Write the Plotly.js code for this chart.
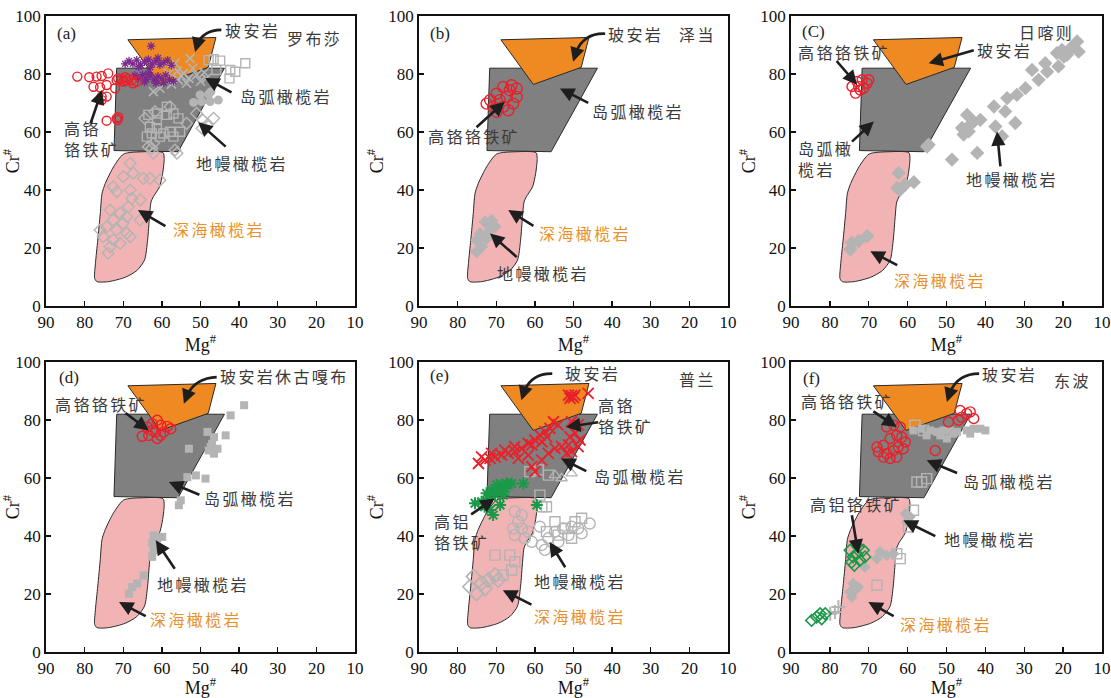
<!DOCTYPE html>
<html><head><meta charset="utf-8">
<script src="https://cdn.plot.ly/plotly-3.0.1.min.js"></script>
<style>body{margin:0;background:#fff}#chart{width:1111px;height:698px}</style>
</head><body><div id="chart"></div>
<script>
// ---- discrimination fields (Mg#, Cr#) ----
const boniniteX = [68.8, 46.0, 48.0, 60.4, 68.8];
const boniniteY = [91.8, 92.6, 82.3, 76.4, 91.8];
const arcX = [71.7, 43.8, 55.8, 72.4, 71.7];
const arcY = [82.0, 82.0, 53.2, 53.6, 82.0];
const abyssalX = [69.9,72.5,74.65,75.5,75.95,76.6,77.2,77.4,76.8,73.8,69.5,66.5,64.5,63.7,63.2,62.8,62.2,60.6,59.8,59.4,59.7,64.7,69.9];
const abyssalY = [52.4,48.0,42.25,38.8,31.9,22.7,14.7,9.5,8.4,8.4,9.9,12.2,15.8,22.7,30.8,35.9,37.7,41.1,45.7,50.9,52.9,53.2,52.4];

// ---- (a) 罗布莎 ----
const a_redX = [81.9,78.8,76.9,75.6,73.9,77.7,76.0,74.3,72.1,75.6,75.6,71.7,71.3,70.4,69.5,68.7,67.8,70.0,69.1,66.5,67.4,74.3,71.7,71.3,71.5,74.3];
const a_redY = [79.1,78.9,79.1,79.3,80.2,75.6,75.4,76.2,75.1,72.2,71.0,77.9,78.5,78.2,78.9,78.4,77.9,77.4,77.7,77.4,76.8,63.9,64.7,65.1,64.1,72.2];
const a_purX = [69.5,68.5,67.5,66.5,65.5,64.5,63.5,62.5,61.5,60.5,59.5,58.5,66,63,61,57.5,66,65,64,63,62,61,60,59,58,57,64.5,61.5,59.5,63.5,67,62.8];
const a_purY = [83.5,84.5,83.5,84.8,83.0,84.2,85.0,83.5,84.6,83.2,84.0,84.8,82.5,82.3,85.5,83.0,78.5,79.8,78.2,79.5,78.0,79.2,78.3,79.6,78.1,77.5,77.2,76.8,77.0,80.2,79.5,89.6];
const a_gxX = [62.2,59.2,56.6,52.7,55.7,53.6,62.2,60.5,58.3,51.0,54.4,53,50,49,56,57.5,52,55,48.5];
const a_gxY = [83.7,83.7,83.7,85.4,77.9,76.8,73.9,75.1,80.2,79.7,80.2,78.5,77.5,80.5,81,76.5,82,79.5,78.5];
const a_gcX = [50.1,51.8,49.7,47.5,45.4,47.9,47.3];
const a_gcY = [72.8,70.2,70.5,70.5,71.0,73.0,73.9];
const a_gsX = [63.5,61.3,58.7,57,58.7,63.1,61.3,59.6,57.9,62.6,57.0,60.5,63.9,61.3,55.7,55.3,47.9,44.9,42.3,41,42.5,38.4,45.9,46.6];
const a_gsY = [65.9,66.4,65.9,66.4,68.7,61.8,61.3,59.5,60.1,59.5,58.4,58.4,58.4,64.1,64.7,60.1,84.8,84.6,81.4,80.8,78.5,83.7,81.4,85.1];
const a_gdX = [68.2,70.0,67.4,64.8,63.1,60.5,72.6,71.7,68.2,65.6,67.8,68.7,65.6,73.4,70.8,72.6,69.1,74.3,71.7,69.1,75.2,72.6,73.4,70.8,68.2,73.9,76.0,70.0,62.2,62.6,56.1,64.4,61.8,57.9,53.6,51.0,49.4,46.6,48.3,49.6,56.6,62.2,63.5];
const a_gdY = [49.2,44.6,45.8,44.0,44.0,43.4,41.1,39.4,40.0,36.6,37.1,34.2,29.7,33.1,32.0,29.7,30.8,27.3,26.2,25.1,23.9,22.8,20.4,21.6,23.9,18.2,26.2,28.5,52.7,54.4,52.7,64.7,67.0,68.7,63.0,66.4,64.1,64.7,62.4,61.3,53.8,56.1,54.9];

// ---- (b) 泽当 ----
const b_redX = [71.6,69.9,68.2,66.5,64.7,65.6,68.2,70.8,72.5,67.3,69.1,66.0,64.7,66.9,69.9];
const b_redY = [71.0,73.2,75.5,74.4,72.1,69.8,68.7,68.7,69.8,72.1,71.0,76.1,75.0,67.5,66.9];
const b_gdX = [72.9,71.6,74.2,70.3,75.1,73.8,75.1,72.5,71.2];
const b_gdY = [29.0,26.2,25.0,27.3,22.7,20.4,18.7,23.3,29.6];

// ---- (c) 日喀则 ----
const c_redX = [74.3,73.0,71.7,70.4,72.2,73.4,71.3,72.6,70.0];
const c_redY = [75.7,77.4,78.0,76.8,74.5,73.4,75.1,75.7,78.0];
const c_gdX = [74.7,74.3,72.6,70.4,62.3,61.9,60.6,58.4,62.7,55.0,54.6,48.6,46.0,45.6,44.7,43.9,44.3,43.0,42.1,41.3,37.8,37.4,35.7,34.9,34.4,32.3,31.9,29.7,28.0,26.3,24.6,24.1,21.6,21.2,19.8,18.1,16.4,16.0,19.0,20.3];
const c_gdY = [19.5,21.8,22.4,24.1,45.9,40.1,41.9,42.7,40.7,55.0,55.6,50.5,61.4,59.1,65.9,62.5,60.2,63.6,52.8,64.2,68.8,61.9,58.5,67.1,71.7,63.1,72.8,75.1,81.4,78.0,83.7,80.8,87.2,82.6,86.0,88.9,91.2,87.7,86.6,88.3];

// ---- (d) 休古嘎布 ----
const d_redX = [65.1,63.4,61.6,62.5,61.2,60.3,58.6,59.5,61.2,63.8,62.5,57.7,60.3];
const d_redY = [74.4,74.7,75.9,78.7,79.9,78.2,77.8,75.9,73.6,77.6,76.4,77.0,74.7];
const d_gsX = [68.5,67.7,66.4,64.7,62.5,62.1,62.5,61.2,59.9,62.1,55.6,55.1,53.4,51.2,48.7,53.0,48.2,46.5,47.4,46.5,45.6,47.0,43.5,42.2,38.7,47.9];
const d_gsY = [20.1,22.4,23.6,26.4,32.8,35.1,37.6,39.1,39.7,40.2,50.6,52.3,60.3,60.9,59.8,70.1,75.9,74.1,70.7,68.4,70.1,71.8,74.7,81.6,85.1,69.5];

// ---- (e) 普兰 ----
const e_redX = [74.6,72.9,71.6,70.3,68.6,66.9,65.2,63.4,61.7,60.0,58.7,57.4,56.1,55.2,73.8,71.2,67.8,65.2,60.8,58.2,56.9,64.3,61.7,60.8,60.0,58.2,56.5,54.8,53.1,51.3,50.9,49.6,48.3,50.5,48.8,51.8,51.3,50.5,49.6,46.2,50.9,50.0,54.0,50.5,48.8];
const e_redY = [65.0,66.2,66.8,67.3,67.9,68.5,69.1,70.2,71.9,73.1,74.8,76.0,77.1,79.4,67.3,68.5,69.6,70.8,71.4,72.5,74.2,66.8,67.9,63.9,62.2,66.2,68.5,70.2,70.8,71.4,74.2,75.4,73.1,69.1,70.8,68.5,88.6,88.4,88.6,89.2,87.5,87.7,78.3,79.4,78.3];
const e_grX = [75.5,73.8,73.0,72.1,71.2,69.9,68.6,67.3,66.0,70.3,71.6,70.8,69.0,68.2,69.5,67.7,63.0,59.5,72.5];
const e_grY = [51.3,51.8,50.1,53.0,55.8,57.6,57.6,58.1,58.1,54.1,49.0,47.2,50.7,54.1,55.8,56.4,58.1,50.7,54.7];
const e_gcX = [65.2,63.4,64.3,65.6,63.4,61.7,65.2,62.6,60.8,58.2,57.4,56.5,54.8,52.7,50.5,48.8,47.9,45.8,51.3,53.9,58.7];
const e_gcY = [48.4,47.2,44.9,42.6,42.6,41.5,40.3,39.2,38.0,36.9,35.2,39.2,41.5,42.6,43.2,42.6,40.9,44.3,40.3,38.0,43.2];
const e_gsX = [58.7,58.2,57.0,61.3,59.1,56.5,70.3,66.5,65.2,66.0,68.2,54.8,52.2,49.6,47.9,54.0,50.5,57.0];
const e_gsY = [54.1,50.1,50.1,62.2,62.8,61.0,33.4,33.4,31.1,28.3,26.5,44.9,42.6,44.9,46.1,40.3,39.2,41.5];
const e_gdX = [76.8,75.1,73.8,72.1,70.3,75.9,69.5,72.9];
const e_gdY = [22.5,20.2,23.7,24.8,26.5,26.0,24.8,21.9];
const e_gtX = [54.8,50.5,53.1];
const e_gtY = [61.0,61.6,59.9];

// ---- (f) 东波 ----
const f_redX = [65.4,63.6,61.9,64.5,62.8,61.5,67.9,66.2,67.5,65.4,63.6,62.4,61.1,64.5,62.8,66.2,60.6,52.9,49.5,46.9,46.5,44.8,43.9,43.0,46.1];
const f_redY = [77.6,78.2,77.6,73.6,74.7,74.1,70.7,71.3,69.0,68.4,69.5,70.7,70.1,66.7,67.2,67.2,72.4,69.5,79.3,79.9,83.3,82.2,82.8,80.5,81.0];
const f_gfX = [58.5,56.4,54.2,52.5,50.8,49.1,47.3,44.8,43.0,41.3,40.0,55.1,51.6,48.2,43.9,49.9];
const f_gfY = [76.4,77.0,76.4,75.9,76.4,76.4,75.9,76.4,77.0,77.0,76.4,74.7,74.7,75.3,75.3,73.6];
const f_gsX = [58.1,55.9,57.6,56.4,55.1,58.5,59.8,62.8,61.9,67.9];
const f_gsY = [78.2,76.4,58.6,58.6,59.8,48.9,43.1,33.9,32.2,23.0];
const f_gdX = [60.6,59.4,60.2,67.1,65.4,63.6,67.9,71.0,74.0,73.5,74.4,72.7,74.8];
const f_gdY = [47.7,46.6,44.8,34.5,33.3,33.9,32.2,29.3,23.6,21.3,19.0,22.4,20.7];
const f_gpX = [78.7,77.8,79.9];
const f_gpY = [13.8,15.5,13.2];
const f_grX = [74.8,74.0,73.1,72.3,71.0,74.4,72.7,71.4,73.7,84.7,83.4,82.1,81.2,82.5];
const f_grY = [35.1,32.8,33.9,31.6,32.8,31.0,36.2,35.1,29.9,10.9,12.1,11.5,13.2,13.2];

const xTicks = [90,80,70,60,50,40,30,20,10];
const yTicks = [0,20,40,60,80,100];

// ---- styles ----
const RED = '#e8212b', PUR = '#7a2a8c', GRN = '#1a9a48', GRY = '#b4b4b4';
const ORANGE = '#ef8a22', ARCG = '#808080', PINK = '#f2b3b4';
const TXT = '#3a3a3a', TXT_OR = '#e8912c';
const CJK = '"Noto Sans CJK SC", "Noto Sans", sans-serif';
const SERIF = '"Liberation Serif", "DejaVu Serif", serif';

const traces = [];
function ax(i){ return i===1 ? ['x','y'] : ['x'+i,'y'+i]; }
function fields(i){
  const [xa,ya] = ax(i);
  const base = {type:'scatter', mode:'lines', fill:'toself', xaxis:xa, yaxis:ya, hoverinfo:'skip', showlegend:false};
  traces.push(Object.assign({}, base, {x:abyssalX, y:abyssalY, fillcolor:PINK, line:{color:'#2a2a2a', width:1, shape:'spline', smoothing:0.7}}));
  traces.push(Object.assign({}, base, {x:arcX, y:arcY, fillcolor:ARCG, line:{color:'#2a2a2a', width:1}}));
  traces.push(Object.assign({}, base, {x:boniniteX, y:boniniteY, fillcolor:ORANGE, line:{color:'#2a2a2a', width:1}}));
}
function pts(i, x, y, symbol, color, size, lw){
  const [xa,ya] = ax(i);
  const open = symbol.indexOf('open') >= 0;
  traces.push({type:'scatter', mode:'markers', x:x, y:y, xaxis:xa, yaxis:ya, showlegend:false, hoverinfo:'skip',
    marker:{symbol:symbol, size:size, color:color, line:{color:color, width: open ? lw : 0}}});
}

for (let i=1;i<=6;i++) fields(i);
// (a)
pts(1, a_gdX, a_gdY, 'diamond-open', GRY, 9, 1.4);
pts(1, a_gsX, a_gsY, 'square-open', GRY, 9, 1.4);
pts(1, a_gcX, a_gcY, 'circle', GRY, 9, 0);
pts(1, a_gxX, a_gxY, 'x-thin-open', GRY, 9, 1.6);
pts(1, a_purX, a_purY, 'asterisk-open', PUR, 7, 1.3);
pts(1, a_redX, a_redY, 'circle-open', RED, 9, 1.4);
// (b)
pts(2, b_gdX, b_gdY, 'diamond', GRY, 10, 0);
pts(2, b_redX, b_redY, 'circle-open', RED, 11, 1.4);
// (c)
pts(3, c_gdX, c_gdY, 'diamond', GRY, 11, 0);
pts(3, c_redX, c_redY, 'circle-open', RED, 10, 1.4);
// (d)
pts(4, d_gsX, d_gsY, 'square', GRY, 8, 0);
pts(4, d_redX, d_redY, 'circle-open', RED, 10, 1.4);
// (e)
pts(5, e_gdX, e_gdY, 'diamond-open', GRY, 11, 1.6);
pts(5, e_gsX, e_gsY, 'square-open', GRY, 10, 1.4);
pts(5, e_gcX, e_gcY, 'circle-open', GRY, 11, 1.4);
pts(5, e_gtX, e_gtY, 'triangle-up-open', GRY, 10, 1.4);
pts(5, e_grX, e_grY, 'asterisk-open', GRN, 10, 2);
pts(5, e_redX, e_redY, 'x-thin-open', RED, 11, 1.8);
// (f)
pts(6, f_gdX, f_gdY, 'diamond', GRY, 9, 0);
pts(6, f_gfX, f_gfY, 'square', GRY, 8, 0);
pts(6, f_gsX, f_gsY, 'square-open', GRY, 10, 1.4);
pts(6, f_gpX, f_gpY, 'cross-thin-open', GRY, 10, 2);
pts(6, f_grX, f_grY, 'diamond-open', GRN, 9, 1.6);
pts(6, f_redX, f_redY, 'circle-open', RED, 10, 1.4);

// ---- annotations & arrows ----
const ann = [];
const shapes = [];
const ARROWC = '#1e1e1e';
function label(i, x, y, text, color){
  const [xa,ya] = ax(i);
  ann.push({xref:xa, yref:ya, x:x, y:y, text:'<span style="letter-spacing:2.4px">'+text+'</span>', showarrow:false, align:'left',
    font:{family:CJK, size:16, color:color||TXT}});
}
function tag(i, x, y, text){
  const [xa,ya] = ax(i);
  ann.push({xref:xa, yref:ya, x:x, y:y, text:text, showarrow:false, font:{family:SERIF, size:17, color:'#222'}});
}
function arrow(i, tx, ty, hx, hy){
  const [xa,ya] = ax(i);
  ann.push({xref:xa, yref:ya, axref:xa, ayref:ya, x:hx, y:hy, ax:tx, ay:ty, text:'', showarrow:true,
    arrowhead:2, arrowsize:1.1, arrowwidth:2.6, arrowcolor:ARROWC, standoff:0, startstandoff:0});
}
// curved arrow: quadratic curve tail -> head via control point, head drawn by annotation
function curved(i, tx, ty, cx, cy, hx, hy){
  const [xa,ya] = ax(i);
  const t = 0.8;
  const px = (1-t)*(1-t)*tx + 2*(1-t)*t*cx + t*t*hx;
  const py = (1-t)*(1-t)*ty + 2*(1-t)*t*cy + t*t*hy;
  const c1x = (1-t)*tx + t*cx, c1y = (1-t)*ty + t*cy;
  shapes.push({type:'path', xref:xa, yref:ya, path:`M ${tx},${ty} Q ${c1x},${c1y} ${px},${py}`,
    line:{color:ARROWC, width:2.6}});
  arrow(i, px, py, hx, hy);
}
// (a)
tag(1, 84.6, 94.1, '(a)');
label(1, 36.6, 95.2, '玻安岩'); label(1, 20.6, 92.4, '罗布莎');
label(1, 27.8, 72.4, '岛弧橄榄岩'); label(1, 39.2, 49.3, '地幔橄榄岩');
label(1, 45.2, 26.4, '深海橄榄岩', TXT_OR); label(1, 78.1, 57.8, '高铬<br>铬铁矿');
curved(1, 44.6, 95.2, 50.5, 95.0, 51.4, 87.6); arrow(1, 41.6, 73.4, 48.8, 78.6); arrow(1, 43.1, 54.5, 50.6, 63.4);
arrow(1, 58.7, 27.2, 66.2, 33.1); arrow(1, 78.6, 62.4, 75.5, 74.5);
// (b)
tag(2, 84.6, 93.9, '(b)');
label(2, 34.0, 93.9, '玻安岩'); label(2, 18.0, 93.9, '泽当');
label(2, 33.3, 67.3, '岛弧橄榄岩'); label(2, 75.8, 58.6, '高铬铬铁矿');
label(2, 46.9, 25.0, '深海橄榄岩', TXT_OR); label(2, 57.8, 11.5, '地幔橄榄岩');
curved(2, 41.8, 93.9, 48.5, 94.3, 50.1, 84.2); arrow(2, 45.8, 69.8, 53.5, 75.0); arrow(2, 75.5, 61.2, 67.8, 70.4);
arrow(2, 60.0, 27.3, 66.9, 33.1); arrow(2, 64.3, 16.4, 71.6, 25.0);
// (c)
tag(3, 84.2, 94.6, '(C)');
label(3, 24.4, 94.6, '日喀则'); label(3, 35.1, 88.3, '玻安岩');
label(3, 76.4, 87.6, '高铬铬铁矿'); label(3, 81.2, 50.8, '岛弧橄<br>榄岩');
label(3, 33.1, 43.9, '地幔橄榄岩'); label(3, 51.6, 8.9, '深海橄榄岩', TXT_OR);
arrow(3, 42.6, 88.3, 54.6, 83.7); arrow(3, 78.6, 85.0, 73.0, 76.3); arrow(3, 74.7, 56.2, 68.7, 63.6);
arrow(3, 36.1, 47.6, 37.0, 60.2); arrow(3, 62.3, 13.8, 69.6, 18.9);
// (d)
tag(4, 84.1, 94.8, '(d)');
label(4, 37.8, 95.2, '玻安岩'); label(4, 21.2, 95.2, '休古嘎布');
label(4, 75.7, 85.4, '高铬铬铁矿'); label(4, 37.2, 53.2, '岛弧橄榄岩');
label(4, 49.3, 23.3, '地幔橄榄岩'); label(4, 51.2, 11.3, '深海橄榄岩', TXT_OR);
curved(4, 45.8, 94.8, 52.5, 94.5, 54.3, 85.6); arrow(4, 69.8, 82.8, 63.4, 76.4); arrow(4, 49.9, 54.0, 58.2, 58.6);
arrow(4, 56.4, 28.2, 61.6, 38.5); arrow(4, 63.8, 12.1, 71.1, 17.2);
// (e)
tag(5, 84.7, 95.4, '(e)');
label(5, 45.2, 96.3, '玻安岩'); label(5, 18.0, 94.0, '普兰');
label(5, 36.6, 81.6, '高铬<br>铬铁矿'); label(5, 32.9, 60.7, '岛弧橄榄岩');
label(5, 78.9, 41.7, '高铝<br>铬铁矿'); label(5, 48.2, 24.5, '地幔橄榄岩');
label(5, 48.2, 12.4, '深海橄榄岩', TXT_OR);
curved(5, 55.5, 96.0, 62.0, 96.2, 63.5, 86.8); arrow(5, 43.2, 79.3, 51.9, 77.6); arrow(5, 46.3, 62.1, 53.2, 66.7);
arrow(5, 76.9, 47.1, 70.4, 52.9); arrow(5, 51.9, 28.7, 56.2, 37.9); arrow(5, 60.5, 16.1, 68.3, 21.3);
// (f)
tag(6, 84.7, 94.3, '(f)');
label(6, 33.9, 95.7, '玻安岩'); label(6, 17.7, 93.7, '东波');
label(6, 75.7, 86.6, '高铬铬铁矿'); label(6, 33.9, 59.0, '岛弧橄榄岩');
label(6, 73.3, 50.9, '高铝铬铁矿'); label(6, 38.8, 38.9, '地幔橄榄岩');
label(6, 50.2, 9.5, '深海橄榄岩', TXT_OR);
curved(6, 41.6, 96.0, 48.3, 96.0, 49.9, 86.2); arrow(6, 69.2, 83.3, 62.8, 77.6); arrow(6, 46.9, 61.5, 55.1, 66.1);
arrow(6, 74.4, 47.7, 72.7, 33.9); arrow(6, 52.5, 39.7, 61.1, 45.4); arrow(6, 63.2, 12.1, 70.1, 17.2);

// ---- axes ----
const xDom = [[46/1111, 355/1111], [419/1111, 728/1111], [791/1111, 1102/1111]];
const yDom = [[1-306/698, 1-16/698], [1-652/698, 1-362/698]];
const layout = {width:1111, height:698, margin:{l:0,r:0,t:0,b:0}, paper_bgcolor:'#fff', plot_bgcolor:'#fff',
  showlegend:false, annotations:ann, shapes:shapes};
function axisBase(){
  return {showline:true, mirror:true, linecolor:'#111', linewidth:1.8, ticks:'inside', ticklen:5, tickwidth:1.3, tickcolor:'#111',
    showgrid:false, zeroline:false, fixedrange:true, tickfont:{family:SERIF, size:17, color:'#111'}};
}
for (let i=1;i<=6;i++){
  const col = (i-1)%3, row = Math.floor((i-1)/3);
  const xk = i===1 ? 'xaxis' : 'xaxis'+i, yk = i===1 ? 'yaxis' : 'yaxis'+i;
  const xs = i===1 ? 'x' : 'x'+i, ys = i===1 ? 'y' : 'y'+i;
  layout[xk] = Object.assign(axisBase(), {domain:xDom[col], anchor:ys, range:[90,10], tickmode:'array', tickvals:xTicks, ticktext:xTicks.map(String),
    ticklabelstandoff:0, title:{text:'Mg<sup>#</sup>', font:{family:SERIF, size:18, color:'#111'}, standoff:0}});
  layout[yk] = Object.assign(axisBase(), {domain:yDom[row], anchor:xs, range:[0,100], tickmode:'array', tickvals:yTicks, ticktext:yTicks.map(String),
    title:{text:'Cr<sup>#</sup>', font:{family:SERIF, size:18, color:'#111'}, standoff:0}});
}
Plotly.newPlot('chart', traces, layout, {displayModeBar:false, staticPlot:true});
</script></body></html>
